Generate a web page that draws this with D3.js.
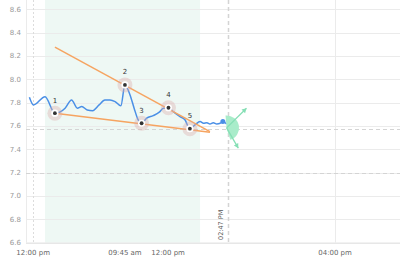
<!DOCTYPE html>
<html><head><meta charset="utf-8">
<script src="https://cdn.jsdelivr.net/npm/d3@7"></script>
<style>html,body{margin:0;padding:0;background:#fff;}svg{display:block;font-family:"DejaVu Sans",Verdana,sans-serif;}</style>
</head><body>
<svg id="c" width="400" height="265"></svg>
<script>
// ---- data ----
const xTicks = [2.1, 29.1, 41.8, 90.9];
const xTickLabels = ["12:00 pm", "09:45 am", "12:00 pm", "04:00 pm"];
const yTicks = [6.6, 6.8, 7.0, 7.2, 7.4, 7.6, 7.8, 8.0, 8.2, 8.4, 8.6];
const priceIdx = [1.0, 2.2, 5.6, 8.5, 11.5, 13.4, 15.1, 16.4, 18.0, 19.6, 21.5, 23.2, 24.7, 26.2, 27.9, 29.1, 30.6, 31.8, 33.0, 34.0, 35.5, 37.4, 39.2, 40.4, 41.9, 43.3, 45.3, 46.8, 47.7, 48.2, 49.7, 51.2, 52.2, 53.2, 54.1, 55.1, 56.1, 57.1, 57.9, 59.0];
const priceVal = [7.846, 7.780, 7.851, 7.709, 7.752, 7.823, 7.752, 7.766, 7.737, 7.731, 7.780, 7.823, 7.823, 7.809, 7.772, 7.952, 7.866, 7.752, 7.651, 7.623, 7.666, 7.688, 7.718, 7.752, 7.756, 7.723, 7.680, 7.651, 7.594, 7.576, 7.609, 7.637, 7.623, 7.628, 7.617, 7.628, 7.617, 7.623, 7.637, 7.617];
const lastIdx = 57.9, lastVal = 7.637;
const patternIdx = [8.5, 29.1, 34.0, 41.9, 48.2];
const patternVal = [7.709, 7.952, 7.623, 7.756, 7.576];
const patternLabels = ["1", "2", "3", "4", "5"];
const upperTrendIdx = [8.5, 54.1];
const upperTrendVal = [8.276, 7.551];
const lowerTrendIdx = [8.5, 54.1];
const lowerTrendVal = [7.709, 7.546];
const bandIdx = [5.6, 51.2];
const crossIdx = 59.3, crossVal = 7.572, crossLabel = "02:47 PM";
const levelVal = 7.2;
const coneIdx = 59.0, coneVal = 7.583;
const arrowIdx = [64.85, 62.44];
const arrowVal = [7.752, 7.409];

// ---- chart ----
const W = 400, H = 265;
const L = 26, R = 400, T = 0, B = 242.5;
const svg = d3.select("#c");
const x = d3.scaleLinear().domain([0, 110]).range([L, R]);
const y = d3.scaleLinear().domain([6.6, 8.68]).range([B, T]);

// band
svg.append("rect").attr("x", x(bandIdx[0])).attr("y", T)
  .attr("width", x(bandIdx[1]) - x(bandIdx[0])).attr("height", B - T)
  .attr("fill", "#eef8f4");

// horizontal grid
svg.append("g").selectAll("line").data(yTicks).join("line")
  .attr("x1", L).attr("x2", R).attr("y1", d => Math.round(y(d)) + 0.5).attr("y2", d => Math.round(y(d)) + 0.5)
  .attr("stroke", "#ebebeb").attr("stroke-width", 1);
// left border
svg.append("line").attr("x1", L + 0.5).attr("x2", L + 0.5).attr("y1", T).attr("y2", B)
  .attr("stroke", "#ebebeb");
// vertical grid at first/last tick
svg.append("line").attr("x1", Math.round(x(xTicks[0])) + 0.5).attr("x2", Math.round(x(xTicks[0])) + 0.5)
  .attr("y1", T).attr("y2", B).attr("stroke", "#dcdcdc").attr("stroke-dasharray", "2,2");
svg.append("line").attr("x1", Math.round(x(xTicks[3])) + 0.5).attr("x2", Math.round(x(xTicks[3])) + 0.5)
  .attr("y1", T).attr("y2", B).attr("stroke", "#ebebeb");

// level dashed
svg.append("line").attr("x1", L).attr("x2", R).attr("y1", Math.round(y(levelVal)) + 0.5).attr("y2", Math.round(y(levelVal)) + 0.5)
  .attr("stroke", "#d4d4d4").attr("stroke-dasharray", "4,3");
// crosshair
svg.append("line").attr("x1", L).attr("x2", R).attr("y1", Math.round(y(crossVal)) + 0.5).attr("y2", Math.round(y(crossVal)) + 0.5)
  .attr("stroke", "#d4d4d4").attr("stroke-dasharray", "4,3");
svg.append("line").attr("x1", Math.round(x(crossIdx)) + 0.5).attr("x2", Math.round(x(crossIdx)) + 0.5).attr("y1", T).attr("y2", B)
  .attr("stroke", "#d4d4d4").attr("stroke-width", 1.5).attr("stroke-dasharray", "4,3");

// bottom axis line
svg.append("line").attr("x1", L).attr("x2", R).attr("y1", B + 0.5).attr("y2", B + 0.5).attr("stroke", "#e4e4e4");

// y labels
svg.append("g").selectAll("text").data(yTicks).join("text")
  .attr("x", 21).attr("y", d => y(d)).attr("dy", "0.35em").attr("text-anchor", "end")
  .attr("font-size", 7).attr("fill", "#999").text(d => d.toFixed(1));
// x labels
svg.append("g").selectAll("text").data(xTicks).join("text")
  .attr("x", d => x(d)).attr("y", 255).attr("text-anchor", "middle")
  .attr("font-size", 7).attr("fill", "#666").text((d, i) => xTickLabels[i]);
// crosshair label
svg.append("text").attr("transform", `translate(${x(crossIdx) - 4.5},240) rotate(-90)`)
  .attr("font-size", 6.5).attr("fill", "#555").text(crossLabel);

// price line
const line = d3.line().x(d => x(d[0])).y(d => y(d[1])).curve(d3.curveMonotoneX);
svg.append("path").datum(priceIdx.map((d, i) => [d, priceVal[i]]))
  .attr("d", line).attr("fill", "none").attr("stroke", "#4a8fe6").attr("stroke-width", 1.5);
svg.append("circle").attr("cx", x(lastIdx)).attr("cy", y(lastVal)).attr("r", 2.5).attr("fill", "#4a8fe6");

// trend lines
const tl = d3.line().x(d => x(d[0])).y(d => y(d[1]));
[[upperTrendIdx, upperTrendVal], [lowerTrendIdx, lowerTrendVal]].forEach(([xi, vi]) => {
  svg.append("path").datum(xi.map((d, i) => [d, vi[i]])).attr("d", tl)
    .attr("fill", "none").attr("stroke", "#f6a461").attr("stroke-width", 1.5);
});

// cone
const cx = x(coneIdx), cy = y(coneVal);
const arc = d3.arc().innerRadius(0).outerRadius(12.5).startAngle(-5 * Math.PI / 180).endAngle(163 * Math.PI / 180);
svg.append("path").attr("d", arc()).attr("transform", `translate(${cx},${cy})`).attr("fill", "#a9ecca");
arrowIdx.forEach((ai, i) => {
  const ex = x(ai), ey = y(arrowVal[i]);
  svg.append("line").attr("x1", cx).attr("y1", cy).attr("x2", ex).attr("y2", ey)
    .attr("stroke", "#86dfb5").attr("stroke-width", 1.3);
  const ang = Math.atan2(ey - cy, ex - cx);
  const s = 4.5, w = 2.5;
  const bx = ex - s * Math.cos(ang), by = ey - s * Math.sin(ang);
  const px = -Math.sin(ang) * w, py = Math.cos(ang) * w;
  svg.append("path").attr("d", `M${ex},${ey}L${bx + px},${by + py}L${bx - px},${by - py}Z`).attr("fill", "#86dfb5");
});

// pattern points
const pg = svg.append("g");
patternIdx.forEach((pi, i) => {
  const px = x(pi), py = y(patternVal[i]);
  pg.append("circle").attr("cx", px).attr("cy", py).attr("r", 7.5).attr("fill", "rgba(222,170,170,0.38)");
  pg.append("circle").attr("cx", px).attr("cy", py).attr("r", 3.6).attr("fill", "#fff");
  pg.append("circle").attr("cx", px).attr("cy", py).attr("r", 1.9).attr("fill", "#333");
  pg.append("text").attr("x", px).attr("y", py - 10.5).attr("text-anchor", "middle")
    .attr("font-size", 7).attr("fill", "#333").text(patternLabels[i]);
});
</script>
</body></html>
